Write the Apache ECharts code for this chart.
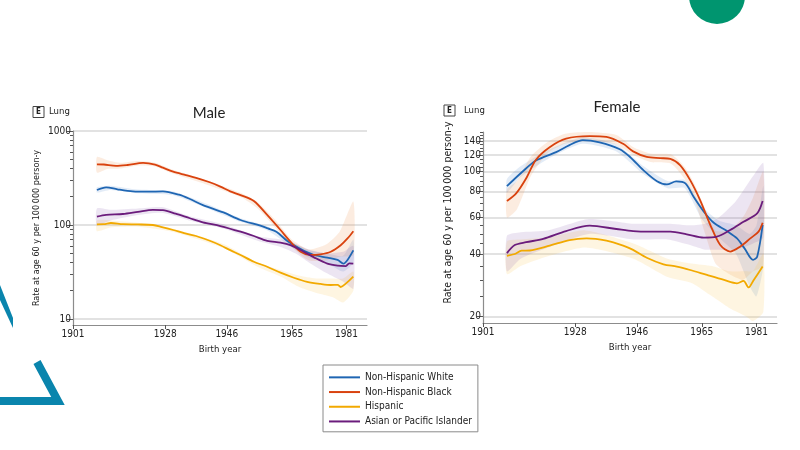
<!DOCTYPE html>
<html><head><meta charset="utf-8">
<script src="https://cdn.jsdelivr.net/npm/echarts@6/dist/echarts.min.js"></script>
<style>html,body{margin:0;padding:0;background:#fff}#c{width:800px;height:450px}</style>
</head><body><div id="c"></div>
<script>
// ---------- data ----------
const seriesNames = ['Non-Hispanic White','Non-Hispanic Black','Hispanic','Asian or Pacific Islander'];
const yAxisTitle = 'Rate at age 60 y per 100\u2009000 person-y';
const xTicks = [1901,1928,1946,1965,1981];
const maleYTicks = [10,100,1000];
const maleYMinor = [20,30,40,50,60,70,80,90,200,300,400,500,600,700,800,900];
const femaleYTicks = [20,40,60,80,100,120,140];
const femaleYMinor = [25,30,35,45,50,55,65,70,75,85,90,95,105,110,115,125,130,135,145,150,155];

const maleWhite = [[1908,236],[1910.7,252],[1914,240],[1918.5,228],[1923,226],[1927.3,228],[1932,210],[1935.2,189],[1939,163],[1945,136],[1950,113],[1955.8,98.4],[1958,92],[1960.5,85],[1963.6,68],[1967.6,55.5],[1971.5,48],[1975.4,45],[1978.4,42.5],[1980.1,38.8],[1981.3,42.5],[1983,53.7]];
const maleBlack = [[1908,442],[1910,440],[1913.6,425],[1917,435],[1921.5,457],[1925,440],[1927.3,407],[1930.3,369],[1934,340],[1937,318],[1941,285],[1944.1,256],[1947,228],[1950,208],[1953.9,180],[1957.8,128],[1961.7,88.5],[1964.6,66.5],[1967.6,52],[1970.5,48],[1973.4,48.8],[1976.4,52],[1979.3,61],[1981.3,72],[1983,86]];
const maleHisp = [[1908,101.7],[1910,102],[1912.1,105],[1915.6,102],[1920,101.5],[1924.4,100],[1927,95],[1930.3,88.5],[1933.5,82],[1937,76.4],[1941,68],[1944.1,61],[1947,54],[1950,48],[1953.9,40.7],[1957.8,36],[1961.7,31.1],[1965.6,27.5],[1969.5,24.9],[1973.4,23.6],[1976.4,23],[1978.4,23.1],[1979.3,21.9],[1980.8,23.8],[1983,28.2]];
const maleAPI = [[1908,122.5],[1910.7,128],[1915.6,131],[1920,138],[1924.4,145],[1927.3,144],[1931,132],[1935.2,118],[1939,107],[1944.1,97.6],[1950,85],[1953.9,76.4],[1957.8,68],[1961.7,64.8],[1964.6,61],[1967.6,54.2],[1971.5,45.3],[1975.4,38.8],[1978.4,36.9],[1980.8,36.6],[1981.8,39.1],[1983,38.8]];

const femaleWhite = [[1908,85],[1912.6,100],[1916.5,113],[1922.4,124],[1926.3,134],[1930.2,141.5],[1935.1,138],[1941,128],[1944,117.5],[1947.9,101.5],[1951.9,89.8],[1954.8,86.6],[1957.5,89.5],[1960.2,87.6],[1962.6,75.5],[1965.6,64],[1968.5,56.6],[1972.4,51.6],[1975.3,47.6],[1977.5,42.6],[1980,37.5],[1981.2,38.8],[1982.8,55.2]];
const femaleBlack = [[1908,72],[1910.7,78.4],[1913.6,92.5],[1916.5,114],[1920.5,131],[1925.3,144],[1932.2,148],[1937.1,147],[1942,136],[1944.9,125],[1948.9,117.5],[1952.8,116],[1955.8,115],[1958.7,107],[1961.6,90.8],[1964.5,72.8],[1967.5,55.2],[1970.4,44.2],[1973.3,41.1],[1976.2,43.4],[1979.2,47.6],[1981.6,51.3],[1982.8,56.6]];
const femaleHisp = [[1908,39.2],[1910.3,40],[1912.3,41.5],[1914.7,41.6],[1920.5,43.9],[1926.3,46.7],[1931.3,47.6],[1937.1,46.4],[1942,43.9],[1944.9,41.9],[1948.9,38.4],[1953.8,35.7],[1957.7,34.8],[1961.6,33.5],[1966.5,31.7],[1971.5,30],[1975.3,28.9],[1977.2,29.7],[1978.7,27.6],[1980.2,30],[1982.8,34.8]];
const femaleAPI = [[1908,40.4],[1910.3,44.2],[1913.6,45.6],[1918.6,47.3],[1925.3,51.6],[1932.2,54.8],[1940,52.8],[1944.9,51.6],[1949.9,51.3],[1955.8,51.3],[1960.6,49.8],[1965.6,48],[1969.4,48.5],[1973.3,52.2],[1977.2,57.2],[1981.2,62.8],[1982.8,72]];

// confidence bands: [year, lower, upper]
const maleWhiteBand = [[1908,222,252],[1912,236,262],[1920,218,238],[1930,208,228],[1940,152,168],[1950,108,118],[1958,87,96],[1965,58,66],[1970,45,54],[1975,40,50],[1980,32,47],[1983,40,70]];
const maleBlackBand = [[1908,360,530],[1911,395,490],[1915,400,460],[1920,430,480],[1925,420,460],[1930,355,390],[1940,270,300],[1950,198,220],[1955,150,175],[1960,95,115],[1965,58,70],[1970,42,55],[1975,42,62],[1979,46,85],[1983,48,178]];
const maleHispBand = [[1908,86,112],[1912,94,112],[1920,96,106],[1930,85,92],[1945,57,63],[1955,36,40],[1962,28,33],[1967,22,29],[1972,19,27],[1977,17,27],[1980,15,27],[1983,20,32]];
const maleAPIBand = [[1908,100,150],[1912,112,145],[1920,128,150],[1927,135,155],[1935,112,124],[1945,92,102],[1955,68,76],[1962,58,70],[1966,50,63],[1970,40,55],[1975,31,50],[1980,25,52],[1983,21,60]];

const femaleWhiteBand = [[1908,79,92],[1912,94,106],[1920,115,127],[1930,136,146],[1940,125,135],[1948,97,106],[1955,83,90],[1960,83,91],[1965,59,68],[1970,48,58],[1975,40,55],[1979,28,50],[1981,25,55],[1983,35,85]];
const femaleBlackBand = [[1908,60,82],[1911,66,90],[1915,95,118],[1920,123,139],[1925,136,152],[1932,141,155],[1940,135,150],[1945,120,131],[1950,111,122],[1956,109,121],[1960,92,105],[1963,72,86],[1966,50,66],[1969,36,52],[1973,32,52],[1977,30,60],[1980,33,75],[1983,35,100]];
const femaleHispBand = [[1908,32,46],[1912,35,47],[1920,39,48],[1931,43,52],[1945,38,45],[1955,31,38],[1962,29,36],[1968,25,35],[1973,22,33],[1978,20,33],[1980,19,33],[1983,21,40]];
const femaleAPIBand = [[1908,33,49],[1912,38,51],[1920,43,52],[1932,50,59],[1945,47,56],[1955,47,56],[1962,44,55],[1966,42,56],[1970,42,60],[1975,42,72],[1980,45,95],[1983,48,110]];

// ---------- styling ----------
const colors = {white:'#1f66b3', black:'#d9420e', hisp:'#f2a900', api:'#6b1c7c'};
const bandColors = {white:'rgba(40,110,190,0.13)', black:'rgba(240,140,70,0.17)', hisp:'rgba(247,195,80,0.17)', api:'rgba(130,80,170,0.15)'};
const narrow = "'Liberation Sans Narrow','DejaVu Sans Condensed',sans-serif";
const axisGray = '#8c8c8c';

function bandSeries(name, band, color, gi){
  return {
    type:'custom', name:name, xAxisIndex:gi, yAxisIndex:gi*2, z:1, silent:true,
    data: band, encode:{x:0, y:[1,2]}, clip:true,
    renderItem: function(params, api){
      if (params.dataIndex !== 0) return null;
      const up = band.map(d => api.coord([d[0], d[2]]));
      const lo = band.map(d => api.coord([d[0], d[1]])).reverse();
      return {type:'polygon', shape:{points: up.concat(lo), smooth:0.2}, style:{fill: color}};
    }
  };
}
function lineSeries(name, data, color, gi){
  return {type:'line', name:name, xAxisIndex:gi, yAxisIndex:gi*2, data:data, smooth:0.3,
    showSymbol:false, symbol:'none', z:3, lineStyle:{width:1.8, color:color}, itemStyle:{color:color}};
}
function xAxis(gi){
  return {type:'value', gridIndex:gi, min:1901, max:1987,
    name:'Birth year', nameLocation:'middle', nameGap:20,
    nameTextStyle:{fontFamily:narrow, fontSize:9.5, color:'#222'},
    axisLine:{lineStyle:{color:axisGray, width:1.2}},
    axisTick:{customValues:xTicks, length:4, lineStyle:{color:'#555'}},
    axisLabel:{customValues:xTicks, margin:4, fontFamily:narrow, fontSize:10, color:'#222', formatter:v=>String(Math.round(v))},
    splitLine:{show:false}};
}
function yMain(gi, min, max, ticks){
  return {type:'log', gridIndex:gi, min:min, max:max, position:'left',
    axisLine:{show:true, lineStyle:{color:axisGray, width:1.2}},
    axisTick:{customValues:ticks, length:6, lineStyle:{color:'#555'}},
    axisLabel:{customValues:ticks, margin:2, fontFamily:narrow, fontSize:10, color:'#222', formatter:v=>String(Math.round(v))},
    splitLine:{show:true, lineStyle:{color:'#e2e2e2', width:2}}};
}
function yMinor(gi, min, max, ticks){
  return {type:'log', gridIndex:gi, min:min, max:max, position:'left',
    axisLine:{show:false}, axisLabel:{show:false}, splitLine:{show:false},
    axisTick:{show:true, customValues:ticks, length:3, lineStyle:{color:'#555'}}};
}

const option = {
  animation:false,
  backgroundColor:'#ffffff',
  title:[
    {text:'Male', left:209, top:106, textAlign:'center', padding:0, textStyle:{fontFamily:'Lato', fontSize:15, fontWeight:'normal', color:'#222'}},
    {text:'Female', left:617, top:100, textAlign:'center', padding:0, textStyle:{fontFamily:'Lato', fontSize:15, fontWeight:'normal', color:'#222'}}
  ],
  grid:[
    {left:73, right:433, top:131, bottom:125},
    {left:483, right:23, top:132, bottom:127}
  ],
  xAxis:[xAxis(0), xAxis(1)],
  yAxis:[
    yMain(0, 8.64, 1000, maleYTicks), yMinor(0, 8.64, 1000, maleYMinor),
    yMain(1, 18.6, 155, femaleYTicks), yMinor(1, 18.6, 155, femaleYMinor)
  ],
  legend:{
    data:seriesNames, orient:'vertical', left:323, top:365, icon:'rect',
    itemWidth:31, itemHeight:2, itemGap:2, padding:[6,6,4,6],
    borderColor:'#8a8a8a', borderWidth:1, selectedMode:false,
    textStyle:{fontFamily:narrow, fontSize:10, color:'#222', lineHeight:12.7}
  },
  graphic:[
    {type:'circle', shape:{cx:717, cy:-4, r:28}, style:{fill:'#00956f'}},
    {type:'polygon', shape:{points:[[0,285],[13,318],[13,328],[0,300]]}, style:{fill:'#0a85ad'}},
    {type:'polyline', shape:{points:[[37,362],[58,401],[0,401]]}, style:{stroke:'#0a85ad', lineWidth:8, fill:null, lineJoin:'miter'}},
    {type:'rect', shape:{x:33, y:106.5, width:11, height:11}, style:{fill:'#fff', stroke:'#444', lineWidth:1}},
    {type:'text', x:38.5, y:112, style:{text:'E', fontFamily:narrow, fontSize:8, fontWeight:'bold', fill:'#222', align:'center', verticalAlign:'middle'}},
    {type:'text', x:49, y:112, style:{text:'Lung', fontFamily:narrow, fontSize:9.5, fill:'#222', align:'left', verticalAlign:'middle'}},
    {type:'rect', shape:{x:444, y:105, width:11, height:11}, style:{fill:'#fff', stroke:'#444', lineWidth:1}},
    {type:'text', x:449.5, y:110.5, style:{text:'E', fontFamily:narrow, fontSize:8, fontWeight:'bold', fill:'#222', align:'center', verticalAlign:'middle'}},
    {type:'text', x:464, y:110.5, style:{text:'Lung', fontFamily:narrow, fontSize:9.5, fill:'#222', align:'left', verticalAlign:'middle'}},
    {type:'text', x:37, y:228, rotation:Math.PI/2, style:{text:yAxisTitle, fontFamily:narrow, fontSize:9, fill:'#222', align:'center', verticalAlign:'middle'}},
    {type:'text', x:448.5, y:212.5, rotation:Math.PI/2, style:{text:yAxisTitle, fontFamily:narrow, fontSize:10.5, fill:'#222', align:'center', verticalAlign:'middle'}}
  ],
  series:[
    bandSeries('b1', maleWhiteBand, bandColors.white, 0),
    bandSeries('b2', maleBlackBand, bandColors.black, 0),
    bandSeries('b3', maleHispBand, bandColors.hisp, 0),
    bandSeries('b4', maleAPIBand, bandColors.api, 0),
    bandSeries('b5', femaleWhiteBand, bandColors.white, 1),
    bandSeries('b6', femaleBlackBand, bandColors.black, 1),
    bandSeries('b7', femaleHispBand, bandColors.hisp, 1),
    bandSeries('b8', femaleAPIBand, bandColors.api, 1),
    lineSeries(seriesNames[0], maleWhite, colors.white, 0),
    lineSeries(seriesNames[1], maleBlack, colors.black, 0),
    lineSeries(seriesNames[2], maleHisp, colors.hisp, 0),
    lineSeries(seriesNames[3], maleAPI, colors.api, 0),
    lineSeries(seriesNames[0], femaleWhite, colors.white, 1),
    lineSeries(seriesNames[1], femaleBlack, colors.black, 1),
    lineSeries(seriesNames[2], femaleHisp, colors.hisp, 1),
    lineSeries(seriesNames[3], femaleAPI, colors.api, 1)
  ]
};
const chart = echarts.init(document.getElementById('c'), null, {renderer:'canvas'});
chart.setOption(option);
</script>
</body></html>
